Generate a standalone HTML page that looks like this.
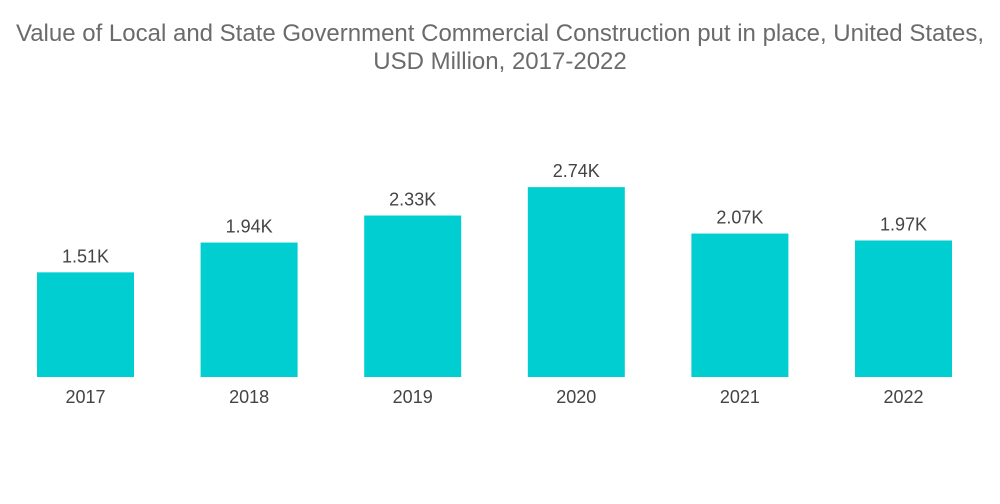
<!DOCTYPE html>
<html><head><meta charset="utf-8"><style>
body{margin:0;background:#fff;width:1000px;height:504px;overflow:hidden;font-family:"Liberation Sans",sans-serif}
.t{position:absolute;left:0;width:1000px;text-align:center;color:#6b6b6b;font-size:24px;line-height:28px;white-space:nowrap}
</style></head><body>
<div class="t" style="top:20px">Value of Local and State Government Commercial Construction put in place, United States,<br>USD Million, 2017-2022</div>
<svg id="c" width="1000" height="504" style="position:absolute;left:0;top:0"></svg>
<script>
const categories=["2017","2018","2019","2020","2021","2022"];
const values=[1.51,1.94,2.33,2.74,2.07,1.97];
const labels=["1.51K","1.94K","2.33K","2.74K","2.07K","1.97K"];
const svg=document.getElementById('c');
const ns="http://www.w3.org/2000/svg";
const base=377, scale=69.3;
const x=i=>37+i*163.6, w=97;
const y=v=>base-v*scale;
categories.forEach((c,i)=>{
  const r=document.createElementNS(ns,'rect');
  
  
  r.setAttribute('x',x(i));r.setAttribute('y',y(values[i]));
  r.setAttribute('width',w);r.setAttribute('height',base-y(values[i]));
  r.setAttribute('fill','#00ced1');svg.appendChild(r);
  const t=document.createElementNS(ns,'text');
  
  
  t.setAttribute('x',x(i)+w/2);t.setAttribute('y',y(values[i])-10);
  t.setAttribute('text-anchor','middle');t.setAttribute('font-size','18');t.setAttribute('fill','#444');
  t.textContent=labels[i];svg.appendChild(t);
  const a=document.createElementNS(ns,'text');
  
  
  a.setAttribute('x',x(i)+w/2);a.setAttribute('y',403);
  a.setAttribute('text-anchor','middle');a.setAttribute('font-size','18');a.setAttribute('fill','#444');
  a.textContent=c;svg.appendChild(a);
});
</script>
</body></html>
